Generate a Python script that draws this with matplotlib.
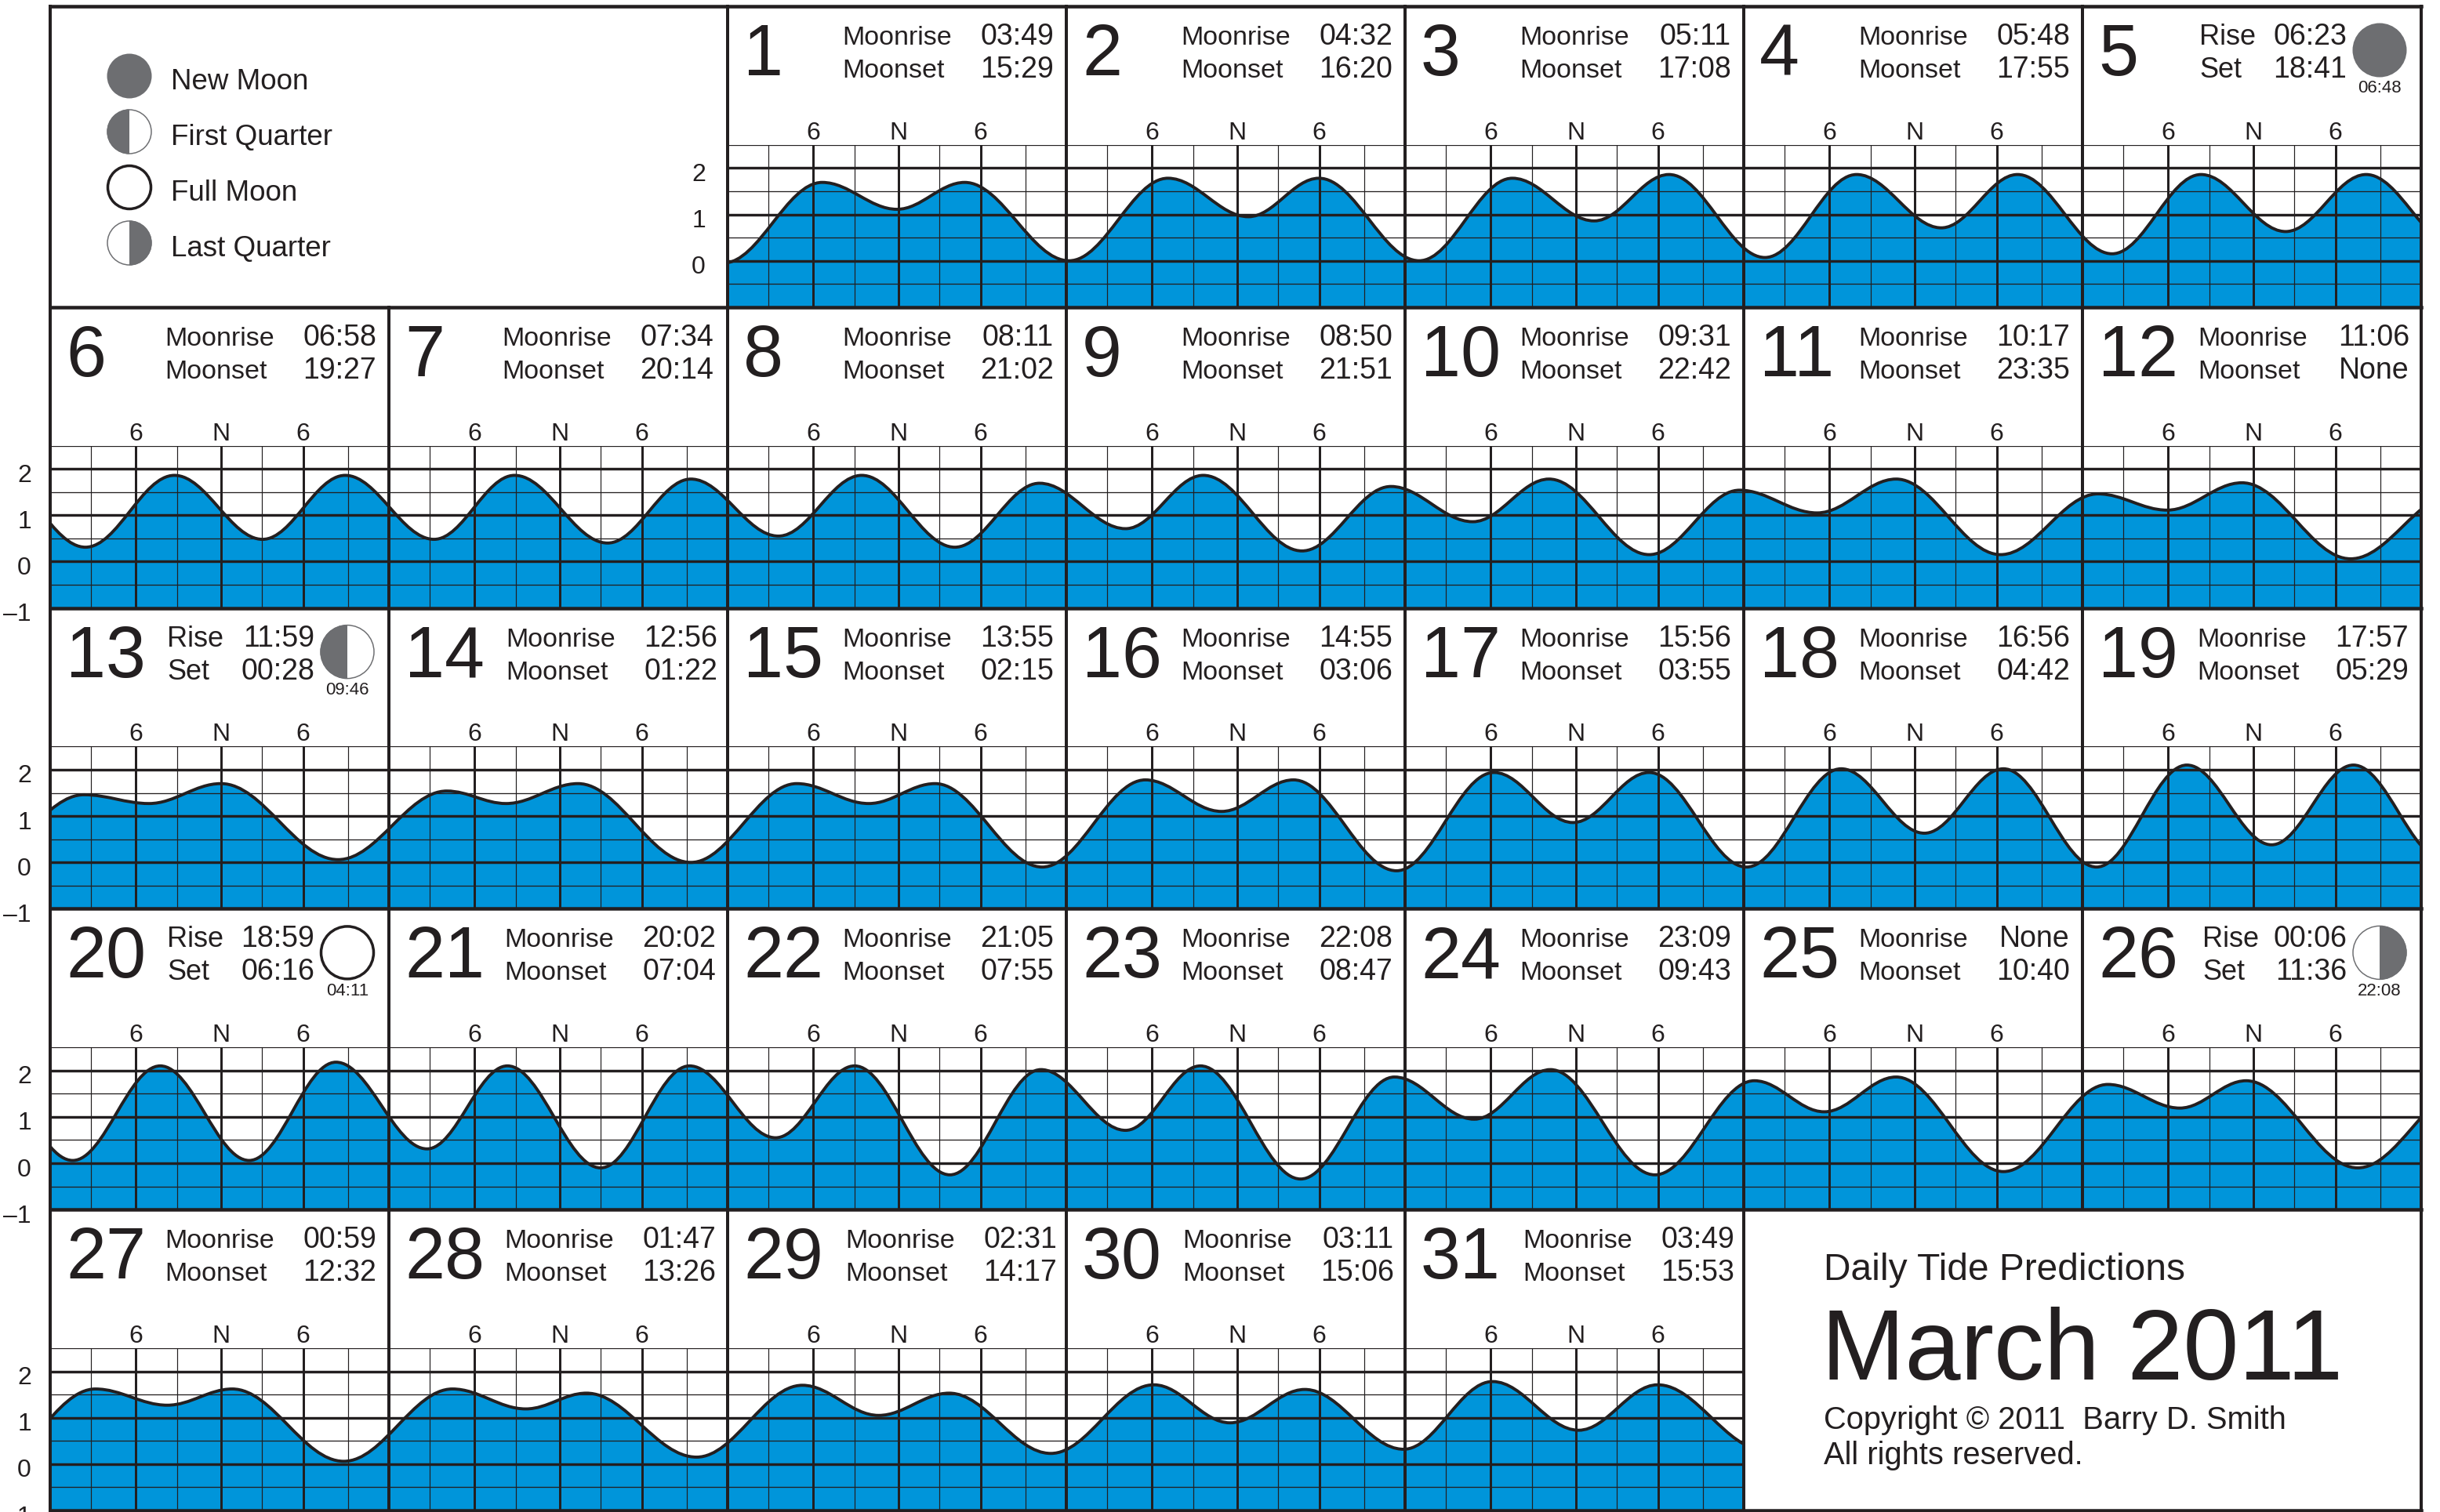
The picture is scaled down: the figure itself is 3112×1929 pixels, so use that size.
import matplotlib
matplotlib.use("Agg")
import matplotlib.pyplot as plt
from matplotlib.patches import Circle, PathPatch, Wedge
from matplotlib.path import Path

plt.rcParams['font.family'] = ['Liberation Sans', 'DejaVu Sans']

INK = '#231f20'
WATER = '#0095da'
MOON_GREY = '#6d6e71'

W, H = 3112, 1929
LEFT, TOP = 64, 8
CELL_W, CELL_H = 432, 383.8
GRAPH_H = 207

MOONRISE = ["03:49", "04:32", "05:11", "05:48", "06:23", "06:58", "07:34", "08:11",
            "08:50", "09:31", "10:17", "11:06", "11:59", "12:56", "13:55", "14:55",
            "15:56", "16:56", "17:57", "18:59", "20:02", "21:05", "22:08", "23:09",
            "None", "00:06", "00:59", "01:47", "02:31", "03:11", "03:49"]
MOONSET = ["15:29", "16:20", "17:08", "17:55", "18:41", "19:27", "20:14", "21:02",
           "21:51", "22:42", "23:35", "None", "00:28", "01:22", "02:15", "03:06",
           "03:55", "04:42", "05:29", "06:16", "07:04", "07:55", "08:47", "09:43",
           "10:40", "11:36", "12:32", "13:26", "14:17", "15:06", "15:53"]

# days with a moon phase: day -> (phase, time)
PHASES = {5: ("new", "06:48"), 13: ("first", "09:46"),
          20: ("full", "04:11"), 26: ("last", "22:08")}
LEGEND = [("new", "New Moon"), ("first", "First Quarter"),
          ("full", "Full Moon"), ("last", "Last Quarter")]

# the sheet was set by hand, a few days sit a little off in x
TEXT_SHIFT = {7: -2, 12: 1, 14: 3, 21: 1, 28: 1, 29: 4, 30: 2, 31: 4}

# hour marks in a day, as they sit on the printed grid
MAJOR_HOURS = [6.07, 12.13, 17.93]
MINOR_HOURS = [2.9, 8.98, 15.02, 21.1]
HOUR_LABELS = ["6", "N", "6"]

# highs and lows of the tide, hours since the start of March 1 and feet
TIDE_TIMES = [
    -0.3, 6.7, 12.0, 16.8, 24.2,
    31.2, 36.9, 41.9, 49.0,
    55.6, 61.4, 66.7, 73.5,
    80.0, 86.0, 91.4, 98.1,
    104.4, 110.4, 116.1,
    122.5, 128.8, 135.05, 140.9,
    147.2, 152.9, 159.5, 165.4,
    171.6, 177.5, 184.1, 190.1,
    196.2, 201.7, 208.7, 215.0,
    220.8, 226.2, 233.3, 239.7,
    245.2, 250.8, 258.2, 265.1,
    270.0, 275.3, 283.0,
    290.4, 295.0, 300.1, 308.4,
    316.1, 320.3, 325.4, 333.4,
    340.9, 346.0, 350.7, 358.3,
    365.6, 371.0, 376.1, 383.4,
    390.3, 395.9, 401.3, 408.2,
    414.9, 420.8, 426.4, 433.0,
    439.4, 445.4, 451.2,
    457.6, 463.8, 470.1, 476.25,
    482.7, 488.4, 495.0, 501.3,
    507.4, 513.0, 519.75, 526.2,
    532.2, 537.5, 544.6, 551.25,
    556.9, 562.3, 569.7, 576.75,
    581.7, 586.8, 594.4, 601.8,
    606.9, 611.6, 619.5,
    627.2, 632.3, 636.9, 644.8,
    652.5, 657.7, 662.0, 669.8,
    677.3, 682.7, 687.7, 694.9,
    702.2, 707.6, 712.9, 719.9,
    726.2, 732.3, 737.9, 745.5,
]
TIDE_FEET = [
    -0.05, 1.69, 1.11, 1.69, 0.0,
    1.78, 0.95, 1.78, 0.0,
    1.78, 0.86, 1.86, 0.07,
    1.86, 0.71, 1.86, 0.15,
    1.86, 0.63, 1.86,
    0.31, 1.86, 0.48, 1.86,
    0.48, 1.86, 0.40, 1.78,
    0.55, 1.86, 0.31, 1.69,
    0.71, 1.86, 0.23, 1.62,
    0.86, 1.78, 0.15, 1.54,
    1.05, 1.78, 0.15, 1.46,
    1.11, 1.70, 0.06,
    1.46, 1.27, 1.70, 0.06,
    1.54, 1.27, 1.70, 0.0,
    1.70, 1.27, 1.70, -0.10,
    1.78, 1.10, 1.78, -0.18,
    1.94, 0.86, 1.94, -0.10,
    2.02, 0.63, 2.02, -0.10,
    2.10, 0.38, 2.10,
    0.06, 2.10, 0.06, 2.18,
    0.31, 2.10, -0.10, 2.10,
    0.55, 2.10, -0.25, 2.02,
    0.71, 2.10, -0.34, 1.86,
    0.95, 2.02, -0.25, 1.78,
    1.11, 1.86, -0.18, 1.70,
    1.19, 1.78, -0.10,
    1.62, 1.27, 1.62, 0.06,
    1.62, 1.19, 1.53, 0.15,
    1.70, 1.05, 1.53, 0.23,
    1.71, 0.89, 1.61, 0.32,
    1.78, 0.73, 1.71, 0.30,
]


def tide_path(close_at=None):
    # flat tangents at each high and low, so the curve turns where the tide does
    verts = [(TIDE_TIMES[0], TIDE_FEET[0])]
    codes = [Path.MOVETO]
    for t0, h0, t1, h1 in zip(TIDE_TIMES, TIDE_FEET, TIDE_TIMES[1:], TIDE_FEET[1:]):
        dt = 0.363 * (t1 - t0)
        verts += [(t0 + dt, h0), (t1 - dt, h1), (t1, h1)]
        codes += [Path.CURVE4] * 3
    if close_at is not None:
        verts += [(TIDE_TIMES[-1], close_at), (TIDE_TIMES[0], close_at), verts[0]]
        codes += [Path.LINETO, Path.LINETO, Path.CLOSEPOLY]
    return Path(verts, codes)


def px(n):
    # pixels to points at dpi 100
    return n * 0.72


def draw_moon(ax, x, y, r, phase):
    if phase == "new":
        ax.add_patch(Circle((x, y), r, fc=MOON_GREY, ec='none'))
    elif phase == "full":
        ax.add_patch(Circle((x, y), r - 1, fc='white', ec=INK, lw=px(3.5)))
    else:
        ax.add_patch(Circle((x, y), r - 0.5, fc='white', ec=MOON_GREY, lw=px(1.5)))
        start = 90 if phase == "first" else 270
        ax.add_patch(Wedge((x, y), r, start, start + 180, fc=MOON_GREY, ec='none'))


def day_axes(fig, day, col, row):
    x0 = LEFT + col * CELL_W
    y1 = TOP + (row + 1) * CELL_H
    ax = fig.add_axes([x0 / W, 1 - y1 / H, CELL_W / W, GRAPH_H / H])
    start = (day - 1) * 24
    ax.set_xlim(start, start + 24)
    ax.set_ylim(-1, 2.5)
    ax.add_patch(PathPatch(tide_path(close_at=-1.5), fc=WATER, ec='none', zorder=1))
    ax.add_patch(PathPatch(tide_path(), fc='none', ec=INK, lw=px(3.9), zorder=3))

    ax.set_xticks([start + h for h in MAJOR_HOURS], HOUR_LABELS, fontsize=23, color=INK)
    ax.set_xticks([start + h for h in MINOR_HOURS], minor=True)
    ax.set_yticks([0, 1, 2], [])
    ax.set_yticks([-0.5, 0.5, 1.5, 2.5], minor=True)
    ax.tick_params(which='both', length=0, bottom=False, left=False)
    ax.tick_params(axis='x', which='major', labeltop=True, labelbottom=False, pad=0)
    ax.set_axisbelow(False)
    ax.grid(axis='x', which='major', color=INK, lw=px(3))
    ax.grid(axis='x', which='minor', color=INK, lw=px(1.2))
    ax.grid(axis='y', which='major', color=INK, lw=px(3.4))
    ax.grid(axis='y', which='minor', color=INK, lw=px(1.3))
    for spine in ax.spines.values():
        spine.set_visible(False)


def main():
    fig = plt.figure(figsize=(W / 100, H / 100), dpi=100, facecolor='white')

    # 31 days on a 7 column sheet, the first two columns of row 0 hold the legend
    for day in range(1, 32):
        slot = day + 1
        day_axes(fig, day, slot % 7, slot // 7)

    # overlay in image pixels for frame and text
    top = fig.add_axes([0, 0, 1, 1], zorder=10)
    top.set_xlim(0, W)
    top.set_ylim(H, 0)
    top.axis('off')

    right = LEFT + 7 * CELL_W
    bottom = TOP + 5 * CELL_H
    for r in range(6):
        y = TOP + r * CELL_H
        top.plot([LEFT, right], [y, y], color=INK, lw=px(4.5), solid_capstyle='projecting')
    for c in range(8):
        x = LEFT + c * CELL_W
        y0, y1 = TOP, bottom
        if c == 1:
            y0 = TOP + CELL_H
        if c == 6:
            y1 = TOP + 4 * CELL_H
        top.plot([x, x], [y0, y1], color=INK, lw=px(4), solid_capstyle='projecting')

    for day in range(1, 32):
        slot = day + 1
        cx = LEFT + (slot % 7) * CELL_W
        cy = TOP + (slot // 7) * CELL_H
        top.text(cx + 20, cy + 88, str(day), fontsize=66, color=INK, va='baseline')
        if day in PHASES:
            phase, when = PHASES[day]
            names = ("Rise", "Set")
            label_size = 26
            lab_x = cx + (153 if day == 26 else 149)
            time_x = cx + 337
            draw_moon(top, cx + 379, cy + 56, 34.5, phase)
            top.text(cx + 379, cy + 110.5, when, fontsize=16, color=INK,
                     ha='center', va='baseline')
        else:
            names = ("Moonrise", "Moonset")
            label_size = 24.5
            shift = TEXT_SHIFT.get(day, 0)
            lab_x, time_x = cx + 146 + shift, cx + 416 + shift
        for name, when, y in zip(names, (MOONRISE[day - 1], MOONSET[day - 1]), (49, 91)):
            top.text(lab_x, cy + y, name, fontsize=label_size, color=INK, va='baseline')
            top.text(time_x, cy + y, when, fontsize=27, color=INK, ha='right', va='baseline')

    # height scale beside the graphs
    unit = GRAPH_H / 3.5
    for r in range(5):
        x = LEFT - 24 if r else LEFT + 2 * CELL_W - 28
        y_end = TOP + (r + 1) * CELL_H
        heights = [-1, 0, 1, 2] if r else [0, 1, 2]
        for v in heights:
            label = "\u2013" + str(-v) if v < 0 else str(v)
            top.text(x, y_end - (v + 1) * unit + 16.5, label, fontsize=23, color=INK,
                     ha='right', va='baseline')

    # legend
    for (phase, name), y in zip(LEGEND, (97, 168, 239, 310)):
        draw_moon(top, 165, y, 28.5, phase)
        top.text(218, y + 16.5, name, fontsize=26.5, color=INK, va='baseline')

    # title block
    top.text(2326, 1633, "Daily Tide Predictions", fontsize=34.5, color=INK, va='baseline')
    top.text(2323, 1760, "March 2011", fontsize=92, color=INK, va='baseline')
    top.text(2326, 1823, "Copyright \u00a9 2011  Barry D. Smith", fontsize=28.7, color=INK, va='baseline')
    top.text(2326, 1868, "All rights reserved.", fontsize=28.7, color=INK, va='baseline')

    fig.savefig('out.png', dpi=100)


if __name__ == "__main__":
    main()
